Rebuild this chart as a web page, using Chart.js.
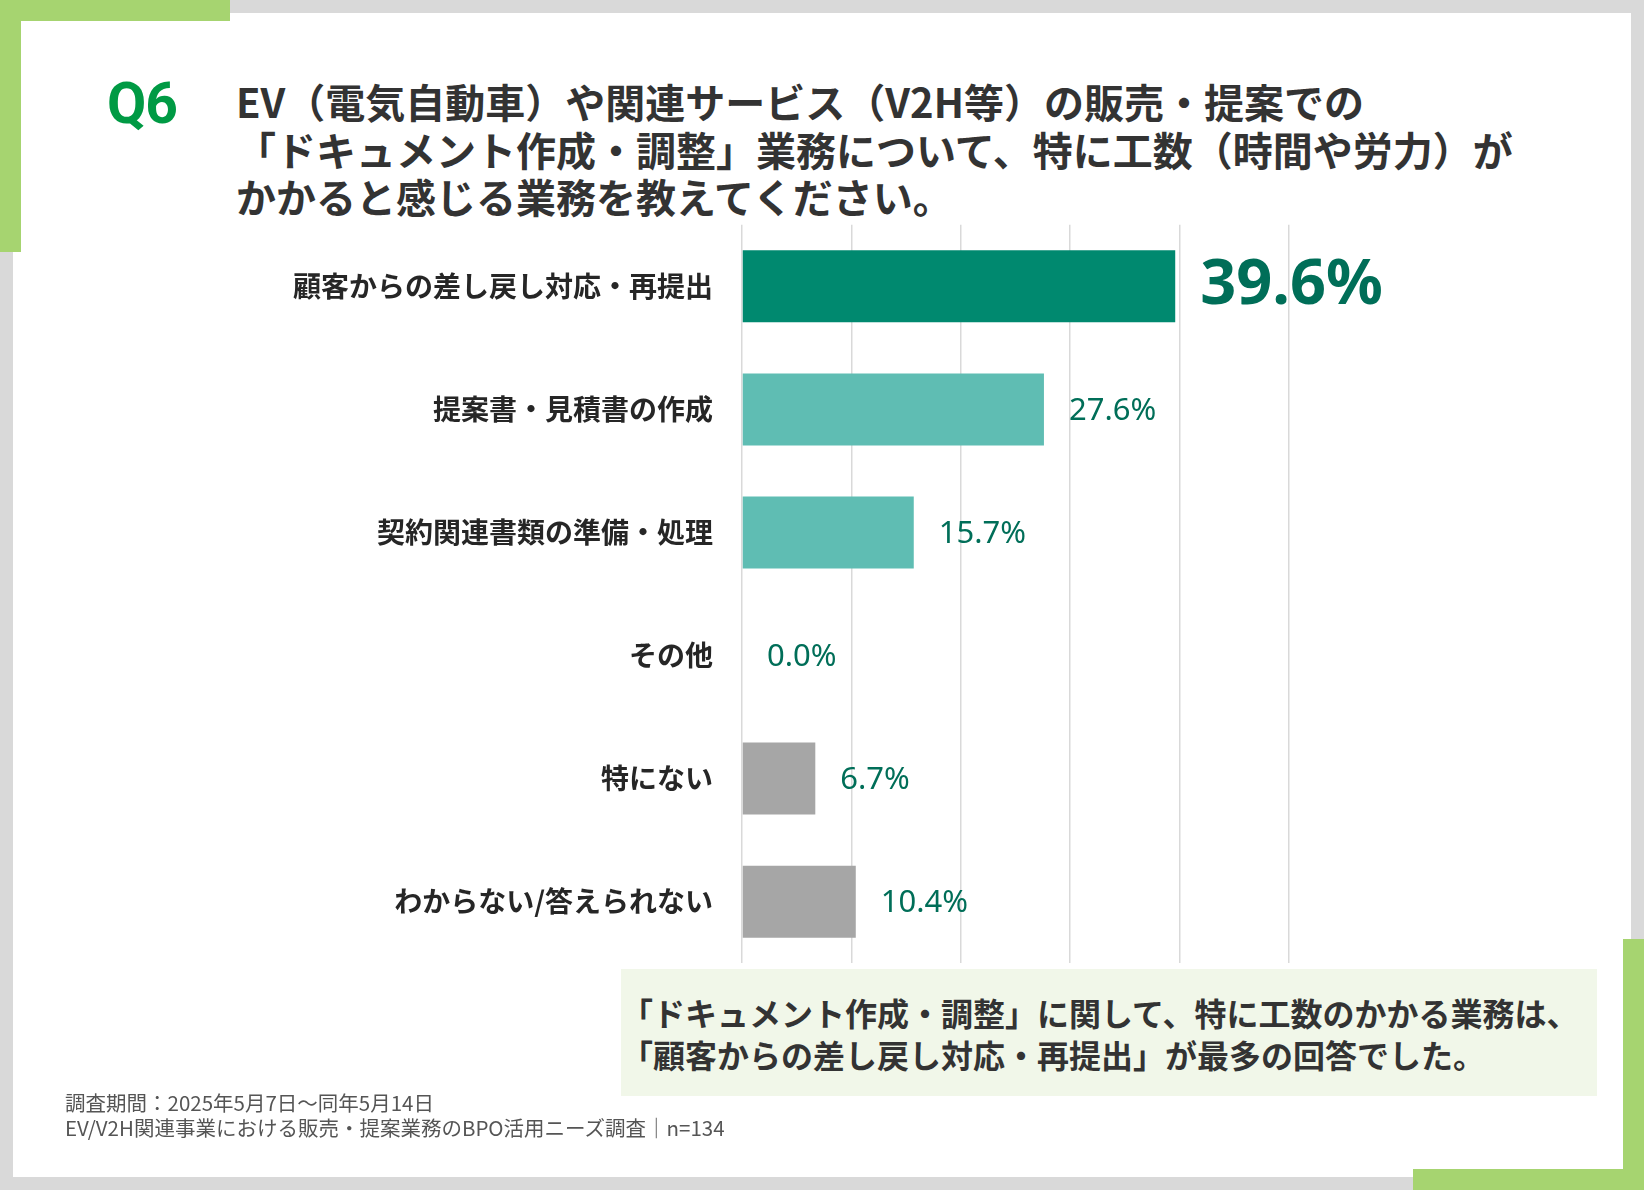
<!DOCTYPE html>
<html lang="ja">
<head>
<meta charset="utf-8">
<script src="https://cdn.jsdelivr.net/npm/chart.js@4.4.0/dist/chart.umd.min.js"></script>
<style>
  html, body { margin: 0; padding: 0; }
  body { width: 1644px; height: 1190px; background: #d9d9d9; position: relative; overflow: hidden; font-family: "Noto Sans CJK JP", "Noto Sans", sans-serif; }
  .card { position: absolute; left: 13px; top: 13px; width: 1618px; height: 1164px; background: #fff; }
  .accent { position: absolute; background: #a6d470; }
  .q { position: absolute; left: 107px; top: 75px; font-family: Roboto, sans-serif; font-weight: 700; font-size: 57px; line-height: 57px; color: #009a44; letter-spacing: -1px; }
  .title { position: absolute; left: 236px; top: 78px; font-weight: 700; font-size: 40px; line-height: 47.5px; color: #333; white-space: nowrap; }
  .chart-wrap { position: absolute; left: 280px; top: 179px; width: 1360px; height: 830px; }
  .note { position: absolute; left: 621px; top: 969px; width: 976px; height: 127px; background: #f1f7e9; font-weight: 700; font-size: 32px; line-height: 42px; color: #333; white-space: nowrap; }
  .note div { position: absolute; left: 0; top: 22px; }
  .foot { position: absolute; left: 65px; top: 1090px; font-size: 20.5px; line-height: 25px; color: #555; white-space: nowrap; }
</style>
</head>
<body>
<div class="card"></div>
<div class="accent" style="left:0;top:0;width:230px;height:21px"></div>
<div class="accent" style="left:0;top:0;width:21px;height:252px"></div>
<div class="accent" style="left:1623px;top:939px;width:21px;height:251px"></div>
<div class="accent" style="left:1413px;top:1169px;width:231px;height:21px"></div>

<div class="q">Q6</div>
<div class="title">EV（電気自動車）や関連サービス（V2H等）の販売・提案での<br>「ドキュメント作成・調整」業務について、特に工数（時間や労力）が<br>かかると感じる業務を教えてください。</div>

<div class="chart-wrap"><canvas id="chart"></canvas></div>

<div class="note"><div>「ドキュメント作成・調整」に関して、特に工数のかかる業務は、<br>「顧客からの差し戻し対応・再提出」が最多の回答でした。</div></div>

<div class="foot">調査期間：2025年5月7日～同年5月14日<br>EV/V2H関連事業における販売・提案業務のBPO活用ニーズ調査｜n=134</div>

<script>
const categories = [
  '顧客からの差し戻し対応・再提出',
  '提案書・見積書の作成',
  '契約関連書類の準備・処理',
  'その他',
  '特にない',
  'わからない/答えられない'
];
const values = [39.6, 27.6, 15.7, 0.0, 6.7, 10.4];
const xTicks = [0, 10, 20, 30, 40, 50];

const barColors = ['#00896f', '#5fbdb3', '#5fbdb3', '#5fbdb3', '#a6a6a6', '#a6a6a6'];
const labelColor = '#006e58';

// value labels to the right of each bar, the top one drawn large
const valueLabels = {
  id: 'valueLabels',
  afterDatasetsDraw(chart) {
    const { ctx } = chart;
    const meta = chart.getDatasetMeta(0);
    ctx.save();
    ctx.fillStyle = labelColor;
    ctx.textAlign = 'left';
    ctx.textBaseline = 'middle';
    meta.data.forEach((bar, i) => {
      const big = i === 0;
      ctx.font = big ? '700 63px "Noto Sans"' : '400 31px "Noto Sans"';
      ctx.fillText(values[i].toFixed(1) + '%', bar.x + 25, bar.y + (big ? 0 : 2));
    });
    ctx.restore();
  }
};

new Chart(document.getElementById('chart'), {
  type: 'bar',
  data: {
    labels: categories,
    datasets: [{
      data: values,
      backgroundColor: barColors,
      borderWidth: 0,
      barPercentage: 0.585,
      categoryPercentage: 1,
      clip: false
    }]
  },
  options: {
    indexAxis: 'y',
    responsive: true,
    maintainAspectRatio: false,
    animation: false,
    layout: { padding: { top: 0, right: 351, bottom: 0, left: 0 } },
    plugins: { legend: { display: false }, tooltip: { enabled: false } },
    scales: {
      x: {
        min: xTicks[0],
        max: xTicks[xTicks.length - 1],
        afterBuildTicks(scale) { scale.ticks = xTicks.map(v => ({ value: v })); },
        afterFit(scale) { scale.height = 0; },
        ticks: { display: false },
        border: { display: false },
        grid: { color: '#d9d9d9', lineWidth: 1.5, drawTicks: false }
      },
      y: {
        afterFit(scale) { scale.width = 462; },
        border: { display: false },
        grid: { display: false, drawTicks: false },
        ticks: {
          padding: 29,
          color: '#262626',
          font: { family: '"Noto Sans CJK JP"', size: 28, weight: '700' }
        }
      }
    }
  },
  plugins: [valueLabels]
});
</script>
</body>
</html>
